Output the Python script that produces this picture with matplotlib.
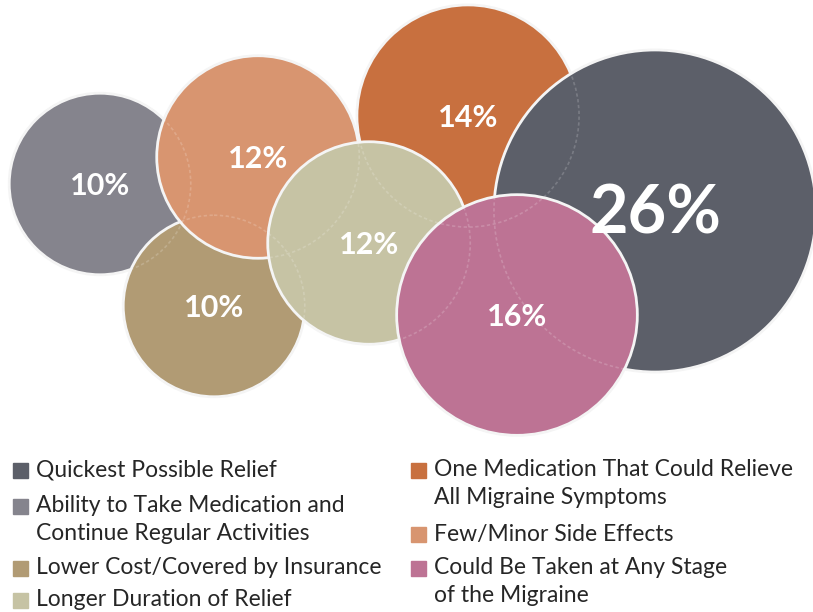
import numpy as np
import matplotlib
matplotlib.use("Agg")
import matplotlib.pyplot as plt
from matplotlib.patches import Circle, Rectangle

# Datos
categorias = [
    "Quickest Possible Relief",
    "Ability to Take Medication and\nContinue Regular Activities",
    "Lower Cost/Covered by Insurance",
    "Longer Duration of Relief",
    "One Medication That Could Relieve\nAll Migraine Symptoms",
    "Few/Minor Side Effects",
    "Could Be Taken at Any Stage\nof the Migraine",
]
valores = [26, 10, 10, 12, 14, 12, 16]
colores = ["#5c5f69", "#85848d", "#b19b74", "#c6c3a4", "#c8703f", "#d89570", "#bd7394"]

# Posicion de cada burbuja (pixeles) y orden de dibujo
centros = [(655, 211), (100, 184), (214, 306), (369, 243), (468, 116), (258, 157), (517, 315)]
orden = [1, 2, 5, 4, 0, 3, 6]

plt.rcParams['font.family'] = ['Lato', 'DejaVu Sans']

fig = plt.figure(figsize=(8.13, 6.12), dpi=100)
ax = fig.add_axes([0, 0, 1, 1])
ax.set_xlim(0, 813)
ax.set_ylim(612, 0)
ax.set_aspect('equal')
ax.axis('off')

radios = [22.8 * v ** 0.6 for v in valores]

# Burbujas
for z, i in enumerate(orden):
    ax.add_patch(Circle(centros[i], radios[i], facecolor=colores[i], edgecolor='#f4f4f4',
                        lw=2.0, zorder=2 + z))

# Contornos tenues de los circulos ocultos
for i in orden:
    ax.add_patch(Circle(centros[i], radios[i], facecolor='none', edgecolor='white',
                        lw=1.2, ls=(0, (2, 1.5)), alpha=0.18, zorder=20))

# Etiquetas
for i in range(len(valores)):
    grande = valores[i] == max(valores)
    ax.text(centros[i][0], centros[i][1] + (4 if grande else 2), f"{valores[i]}%",
            color='white', fontsize=48 if grande else 22, fontweight='bold',
            ha='center', va='center', zorder=30)

# Leyenda
def entrada(x, y, idx):
    ax.add_patch(Rectangle((x, y - 7.5), 15, 15, color=colores[idx], zorder=5))
    for k, linea in enumerate(categorias[idx].split("\n")):
        ax.text(x + 23, y + k * 27, linea, fontsize=16.5, color='#262626',
                va='center', ha='left')

for idx, y in zip([0, 1, 2, 3], [470, 506, 568, 600]):
    entrada(13, y, idx)
for idx, y in zip([4, 5, 6], [470, 534, 568]):
    entrada(411, y, idx)

fig.savefig("out.png", dpi=100)
